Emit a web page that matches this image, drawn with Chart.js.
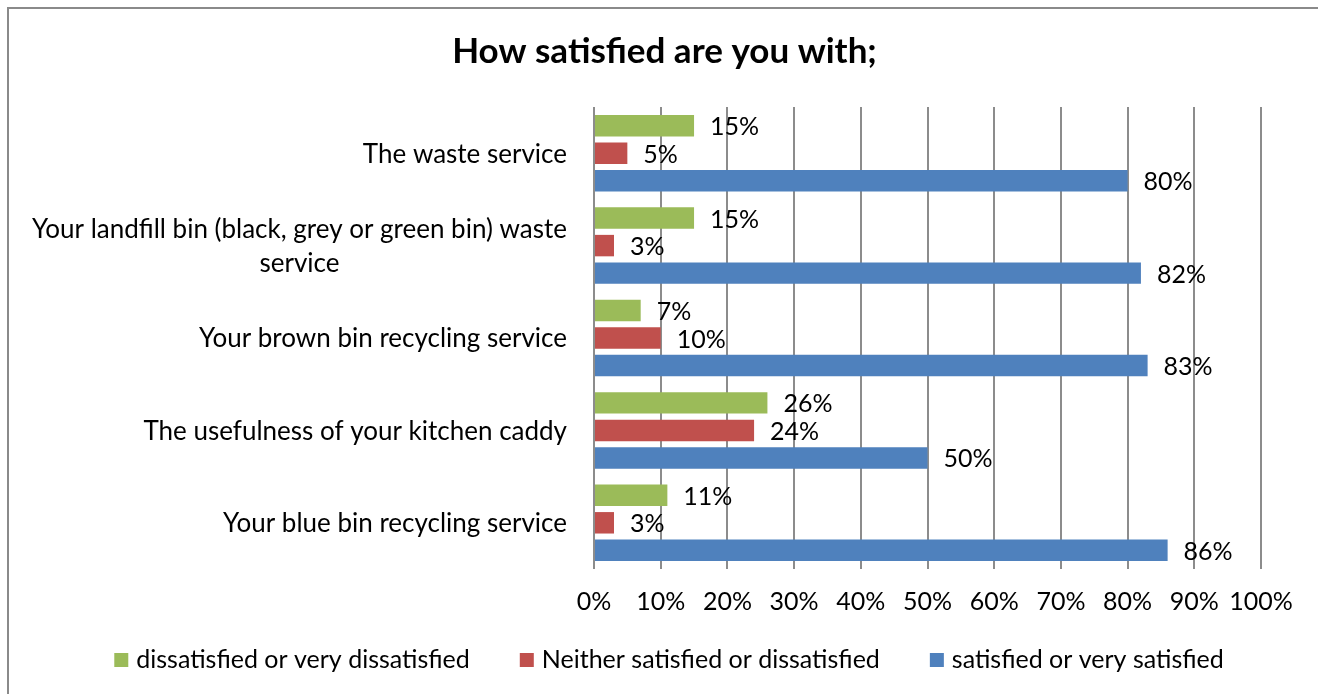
<!DOCTYPE html>
<html>
<head>
<meta charset="utf-8">
<script src="https://cdn.jsdelivr.net/npm/chart.js@4/dist/chart.umd.min.js"></script>
<style>
  html, body { margin: 0; padding: 0; background: #ffffff; overflow: hidden; }
  #wrap { position: relative; width: 1318px; height: 694px; }
  #frame { position: absolute; left: 7px; top: 7px; width: 1400px; height: 800px;
           border-left: 2px solid #8a8a8a; border-top: 2px solid #8a8a8a; }
  canvas { position: absolute; left: 0; top: 0; }
</style>
</head>
<body>
<div id="wrap">
  <div id="frame"></div>
  <canvas id="chart" width="1318" height="694"></canvas>
</div>
<script>
// Survey categories (multi-line labels are arrays of lines)
const categories = [
  ['The waste service'],
  ['Your landfill bin (black, grey or green bin) waste', 'service'],
  ['Your brown bin recycling service'],
  ['The usefulness of your kitchen caddy'],
  ['Your blue bin recycling service']
];

// Share of respondents, in percent
const dissatisfied = [15, 15, 7, 26, 11];
const neither = [5, 3, 10, 24, 3];
const satisfied = [80, 82, 83, 50, 86];

const seriesNames = [
  'dissatisfied or very dissatisfied',
  'Neither satisfied or dissatisfied',
  'satisfied or very satisfied'
];

const axisTicks = [0, 10, 20, 30, 40, 50, 60, 70, 80, 90, 100];

const FONT = 'Lato, "Open Sans", sans-serif';
const TEXT_SIZE = 25;
const CATEGORY_SIZE = 26;
const LEFT_PAD = 68;

// Category labels drawn beside the y axis: single lines end at the axis gap,
// wrapped labels are centred as a block that ends at the same place.
const categoryLabelPlugin = {
  id: 'categoryLabels',
  afterDraw(chart) {
    const ctx = chart.ctx;
    const yScale = chart.scales.y;
    const rightEdge = chart.chartArea.left - 27;
    const lineGap = 34;
    ctx.save();
    ctx.font = CATEGORY_SIZE + 'px ' + FONT;
    ctx.fillStyle = '#000000';
    ctx.textBaseline = 'middle';
    ctx.textAlign = 'center';
    categories.forEach((lines, i) => {
      const yc = yScale.getPixelForValue(i);
      const widths = lines.map(l => ctx.measureText(l).width);
      const blockW = Math.max(...widths);
      const xc = rightEdge - blockW / 2;
      const y0 = yc - (lines.length - 1) * lineGap / 2;
      lines.forEach((l, k) => ctx.fillText(l, xc, y0 + k * lineGap + 1));
    });
    ctx.restore();
  }
};

// Value labels just past the end of each bar
const valueLabelPlugin = {
  id: 'valueLabels',
  afterDatasetsDraw(chart) {
    const ctx = chart.ctx;
    ctx.save();
    ctx.font = TEXT_SIZE + 'px ' + FONT;
    ctx.fillStyle = '#000000';
    ctx.textBaseline = 'middle';
    ctx.textAlign = 'left';
    chart.data.datasets.forEach((ds, di) => {
      const meta = chart.getDatasetMeta(di);
      meta.data.forEach((bar, i) => {
        ctx.fillText(ds.data[i] + '%', bar.x + 16, bar.y + 1.5);
      });
    });
    ctx.restore();
  }
};

// Single-row legend under the axis, built from the datasets
const rowLegendPlugin = {
  id: 'rowLegend',
  afterDraw(chart) {
    const ctx = chart.ctx;
    const box = 14, textGap = 8, itemGap = 50;
    const centerX = 669, centerY = 660;
    ctx.save();
    ctx.font = TEXT_SIZE + 'px ' + FONT;
    ctx.textBaseline = 'middle';
    ctx.textAlign = 'left';
    const items = chart.data.datasets.map(ds => ({
      text: ds.label, color: ds.backgroundColor, w: ctx.measureText(ds.label).width
    }));
    const total = items.reduce((s, it) => s + box + textGap + it.w, 0) + itemGap * (items.length - 1);
    let x = centerX - total / 2;
    items.forEach(it => {
      ctx.fillStyle = it.color;
      ctx.fillRect(x, centerY - box / 2, box, box);
      ctx.fillStyle = '#000000';
      ctx.fillText(it.text, x + box + textGap, centerY);
      x += box + textGap + it.w + itemGap;
    });
    ctx.restore();
  }
};

new Chart(document.getElementById('chart'), {
  type: 'bar',
  data: {
    labels: categories,
    datasets: [
      { label: seriesNames[0], data: dissatisfied, backgroundColor: '#9bbb59' },
      { label: seriesNames[1], data: neither, backgroundColor: '#c0504d' },
      { label: seriesNames[2], data: satisfied, backgroundColor: '#4f81bd' }
    ]
  },
  options: {
    indexAxis: 'y',
    responsive: false,
    animation: false,
    events: [],
    categoryPercentage: 0.893,
    barPercentage: 0.78,
    layout: { padding: { left: LEFT_PAD, right: 57, top: 0, bottom: 65 } },
    scales: {
      x: {
        min: 0,
        max: 100,
        afterBuildTicks(scale) { scale.ticks = axisTicks.map(v => ({ value: v })); },
        afterFit(scale) { scale.height = 60; },
        border: { display: false },
        grid: { color: '#8c8c8c', lineWidth: 2, drawTicks: false },
        ticks: {
          padding: 18,
          autoSkip: false,
          maxRotation: 0,
          minRotation: 0,
          color: '#000000',
          font: { family: FONT, size: TEXT_SIZE },
          callback: v => v + '%'
        }
      },
      y: {
        afterFit(scale) { scale.width = 594 - LEFT_PAD; },
        border: { display: false },
        grid: { display: false },
        ticks: { display: false }
      }
    },
    plugins: {
      title: {
        display: true,
        text: 'How satisfied are you with;',
        color: '#000000',
        font: { family: FONT, size: 35, weight: 'bold' },
        padding: { top: 31, bottom: 34 }
      },
      legend: { display: false },
      tooltip: { enabled: false }
    }
  },
  plugins: [categoryLabelPlugin, valueLabelPlugin, rowLegendPlugin]
});
</script>
</body>
</html>
